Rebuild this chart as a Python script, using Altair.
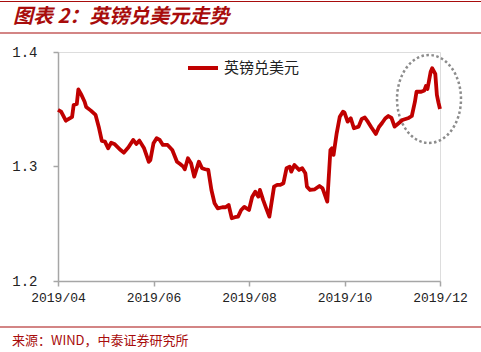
import altair as alt
import pandas as pd

dates = [
    "2019-04-01", "2019-04-03", "2019-04-06", "2019-04-09", "2019-04-10", "2019-04-11",
    "2019-04-13", "2019-04-14", "2019-04-16", "2019-04-18", "2019-04-19", "2019-04-22",
    "2019-04-25", "2019-04-27", "2019-04-29", "2019-05-01", "2019-05-03", "2019-05-05",
    "2019-05-07", "2019-05-11", "2019-05-13", "2019-05-16", "2019-05-19", "2019-05-21",
    "2019-05-23", "2019-05-26", "2019-05-29", "2019-05-30", "2019-06-01", "2019-06-03",
    "2019-06-05", "2019-06-07", "2019-06-10", "2019-06-13", "2019-06-16", "2019-06-18",
    "2019-06-20", "2019-06-21", "2019-06-23", "2019-06-25", "2019-06-27", "2019-06-30",
    "2019-07-02", "2019-07-04", "2019-07-06", "2019-07-08", "2019-07-10", "2019-07-12",
    "2019-07-15", "2019-07-17", "2019-07-19", "2019-07-21", "2019-07-23", "2019-07-25",
    "2019-07-27", "2019-07-29", "2019-08-01", "2019-08-03", "2019-08-05", "2019-08-07",
    "2019-08-08", "2019-08-10", "2019-08-12", "2019-08-14", "2019-08-17", "2019-08-19",
    "2019-08-21", "2019-08-23", "2019-08-25", "2019-08-27", "2019-08-28", "2019-08-30",
    "2019-09-02", "2019-09-04", "2019-09-06", "2019-09-07", "2019-09-09", "2019-09-12",
    "2019-09-15", "2019-09-17", "2019-09-20", "2019-09-22", "2019-09-23", "2019-09-24",
    "2019-09-26", "2019-09-28", "2019-09-30", "2019-10-01", "2019-10-03", "2019-10-05",
    "2019-10-07", "2019-10-10", "2019-10-12", "2019-10-14", "2019-10-16", "2019-10-18",
    "2019-10-21", "2019-10-23", "2019-10-25", "2019-10-27", "2019-10-29", "2019-10-31",
    "2019-11-02", "2019-11-04", "2019-11-07", "2019-11-09", "2019-11-11", "2019-11-13",
    "2019-11-15", "2019-11-16", "2019-11-19", "2019-11-21", "2019-11-22", "2019-11-23",
    "2019-11-25", "2019-11-26", "2019-11-28", "2019-11-29", "2019-11-30", "2019-12-01",
]
gbpusd = [
    1.3494, 1.3479, 1.3400, 1.3424, 1.3433, 1.3537,
    1.3546, 1.3674, 1.3625, 1.3566, 1.3520, 1.3488,
    1.3450, 1.3348, 1.3223, 1.3217, 1.3159, 1.3208,
    1.3197, 1.3144, 1.3121, 1.3168, 1.3232, 1.3197,
    1.3226, 1.3159, 1.3040, 1.3057, 1.3203, 1.3247,
    1.3232, 1.3188, 1.3188, 1.3144, 1.3042, 1.3022,
    1.2999, 1.2976, 1.3072, 1.3028, 1.2911, 1.3042,
    1.2985, 1.2976, 1.2970, 1.2795, 1.2679, 1.2635,
    1.2644, 1.2644, 1.2664, 1.2548, 1.2557, 1.2562,
    1.2620, 1.2647, 1.2620, 1.2734, 1.2780, 1.2737,
    1.2795, 1.2708, 1.2635, 1.2562, 1.2824, 1.2839,
    1.2839, 1.2854, 1.2985, 1.2999, 1.2955, 1.3013,
    1.2970, 1.2985, 1.2941, 1.2824, 1.2795, 1.2801,
    1.2830, 1.2810, 1.2693, 1.3144, 1.3159, 1.3101,
    1.3290, 1.3435, 1.3479, 1.3470, 1.3392, 1.3421,
    1.3334, 1.3348, 1.3415, 1.3428, 1.3389, 1.3345,
    1.3284, 1.3345, 1.3380, 1.3419, 1.3441, 1.3424,
    1.3348, 1.3371, 1.3406, 1.3415, 1.3424, 1.3441,
    1.3566, 1.3653, 1.3653, 1.3664, 1.3703, 1.3677,
    1.3825, 1.3858, 1.3808, 1.3625, 1.3559, 1.3502,
]
series_name = "英镑兑美元"
title_text = "图表 2：英镑兑美元走势"
source_text = "来源：WIND，中泰证券研究所"
y_ticks = [1.2, 1.3, 1.4]

RED = "#c00000"
DARK_RED = "#a80c0c"
AXIS_GRAY = "#a6a6a6"
CJK = "Noto Sans CJK SC"
MONO = "Liberation Mono"

df = pd.DataFrame({"date": dates, "value": gbpusd, "series": series_name})

x_enc = alt.X(
    "date:T",
    scale=alt.Scale(
        type="utc",
        domain=[alt.DateTime(year=2019, month=4, date=1, utc=True),
                alt.DateTime(year=2019, month=12, date=1, utc=True)],
    ),
    axis=alt.Axis(
        title=None,
        values=[alt.DateTime(year=2019, month=m, date=1, utc=True) for m in (4, 6, 8, 10, 12)],
        format="%Y/%m",
        grid=False,
        domainColor=AXIS_GRAY,
        domainWidth=1.5,
        tickColor=AXIS_GRAY,
        tickWidth=1.5,
        tickSize=5,
        labelFont=MONO,
        labelFontSize=13,
        labelColor="#222222",
        labelPadding=5,
        labelAngle=0,
        labelFlush=False,
    ),
)
y_enc = alt.Y(
    "value:Q",
    scale=alt.Scale(domain=[1.2, 1.4], nice=False, zero=False),
    axis=alt.Axis(
        title=None,
        values=y_ticks,
        format=".1f",
        grid=False,
        domainColor=AXIS_GRAY,
        domainWidth=1.5,
        tickColor=AXIS_GRAY,
        tickWidth=1.5,
        tickSize=5,
        labelFont=MONO,
        labelFontSize=14,
        labelColor="#222222",
        labelPadding=16,
    ),
)

line = alt.Chart(df).mark_line(strokeWidth=3.8, strokeJoin="round").encode(
    x=x_enc,
    y=y_enc,
    color=alt.Color(
        "series:N",
        scale=alt.Scale(domain=[series_name], range=[RED]),
        legend=alt.Legend(
            title=None,
            orient="none",
            legendX=128,
            legendY=-1,
            symbolType="stroke",
            symbolSize=900,
            symbolStrokeWidth=4,
            labelFont=CJK,
            labelFontSize=15,
            labelColor="#222222",
            labelOffset=4,
            padding=0,
        ),
    ),
)

# dotted ellipse highlighting the late-November spike
ellipse = alt.Chart(pd.DataFrame({"a": [0]})).mark_point(
    shape="M -0.727 0 A 0.727 1 0 1 0 0.727 0 A 0.727 1 0 1 0 -0.727 0 Z",
    size=7744,
    filled=False,
    stroke="#8c8c8c",
    strokeWidth=2.5,
    strokeDash=[2.5, 2.5],
    opacity=1,
).encode(x=alt.value(371), y=alt.value(47))

title = alt.Chart(pd.DataFrame({"t": [title_text]})).mark_text(
    align="left", baseline="middle", font=CJK, fontSize=20, fontWeight="bold",
    fontStyle="italic", color=DARK_RED,
).encode(x=alt.value(-45), y=alt.value(-35), text="t:N")

source = alt.Chart(pd.DataFrame({"t": [source_text]})).mark_text(
    align="left", baseline="middle", font=CJK, fontSize=13, color=DARK_RED,
).encode(x=alt.value(-46), y=alt.value(289), text="t:N")

rules_df = pd.DataFrame({"yy": [-50.5, -19, 275]})
rules = alt.Chart(rules_df).mark_rule(color=DARK_RED, strokeWidth=1.2).encode(
    x=alt.value(-58), x2=alt.value(423), y=alt.Y("yy:Q", scale=None)
)

chart = alt.layer(rules, title, source, ellipse, line).properties(
    width=382,
    height=229,
    autosize=alt.AutoSizeParams(type="none"),
    padding={"left": 58, "top": 52, "right": 41, "bottom": 71},
).configure_view(stroke=None).configure(background="white")

chart.save("out.html", embed_options={"renderer": "svg", "actions": False})
